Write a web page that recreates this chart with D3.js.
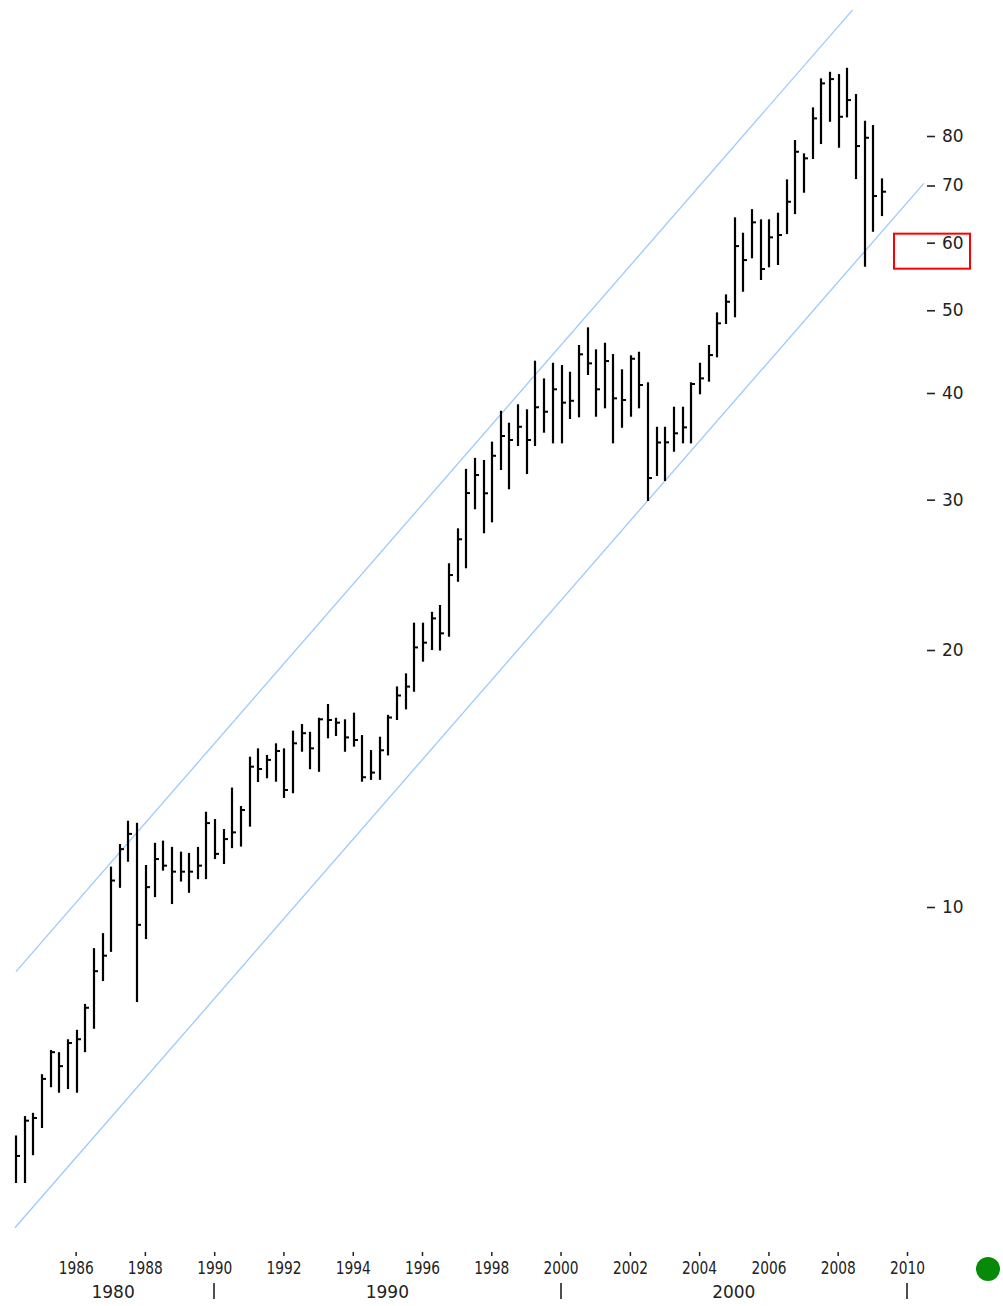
<!DOCTYPE html>
<html>
<head>
<meta charset="utf-8">
<script src="https://cdn.jsdelivr.net/npm/d3@7"></script>
<style>
  body { margin: 0; background: #fff; }
  svg { display: block; }
</style>
</head>
<body>
<div id="chart"></div>
<script>
// quarterly HLC bars, Apr 1984 .. Apr 2009
var highs = [5.40,5.69,5.74,6.37,6.80,6.76,7.00,7.18,7.70,8.95,
  9.32,11.15,11.85,12.62,12.55,11.20,11.89,11.96,11.76,11.61,
  11.57,11.76,12.93,12.68,12.34,13.80,13.13,15.00,15.34,15.07,
  15.55,15.34,16.09,16.38,16.04,16.66,17.29,16.66,16.59,16.89,
  15.90,15.27,15.83,16.79,18.13,18.78,21.53,21.53,22.17,22.58,
  25.27,27.77,32.60,33.58,33.39,35.08,38.13,36.92,38.80,38.28,
  43.64,41.61,43.40,43.13,42.36,45.53,47.75,45.00,45.81,44.43,
  42.64,44.28,44.71,41.17,36.52,36.52,38.55,38.55,41.17,43.40,
  45.53,49.72,52.19,64.24,61.63,65.69,63.90,63.90,65.05,71.17,
  79.13,76.34,86.42,93.45,95.13,94.54,96.16,89.58,83.36,82.40,71.36];
var lows = [4.75,4.75,5.12,5.51,6.15,6.06,6.12,6.06,6.76,7.20,
  8.19,8.86,10.53,11.30,7.74,9.17,10.27,11.03,10.08,10.71,
  10.39,10.78,10.78,11.38,11.23,11.72,11.77,12.42,14.01,14.15,
  14.02,13.42,13.59,15.20,14.50,14.40,15.76,15.86,15.20,15.41,
  14.02,14.09,14.09,15.05,16.56,17.04,17.87,19.38,20.00,19.97,
  20.73,24.04,24.93,29.23,27.40,28.22,32.50,30.85,34.67,32.15,
  34.67,35.94,34.92,34.92,37.29,37.46,41.99,37.52,38.38,34.92,
  36.42,37.52,38.38,29.89,31.98,31.55,34.14,34.92,34.92,39.86,
  41.24,44.04,48.18,49.06,52.56,57.52,54.25,56.14,56.49,61.41,
  64.81,68.65,75.18,78.28,83.13,77.51,84.12,71.23,56.23,61.79,64.46];
var closes = [5.11,5.62,5.66,6.29,6.76,6.51,6.93,7.00,7.62,8.41,
  8.77,10.74,11.69,12.18,9.53,10.55,11.38,11.18,11.00,11.00,
  11.00,11.18,12.54,11.54,12.01,12.23,12.99,14.60,14.51,14.87,
  15.23,13.71,15.55,15.98,15.34,16.59,16.56,16.44,15.80,15.69,
  14.19,14.37,15.26,16.67,17.69,18.12,20.14,20.40,21.78,20.92,
  24.48,26.96,30.54,32.06,30.52,33.77,35.62,35.24,36.52,35.24,
  38.49,38.03,40.40,38.97,39.17,44.40,43.33,40.40,43.60,39.43,
  39.25,43.87,40.87,31.80,35.00,35.02,35.88,36.46,40.98,41.61,
  44.31,48.27,51.16,59.45,57.25,63.38,55.88,60.87,61.25,67.00,
  76.67,75.32,83.89,92.20,93.27,84.26,88.14,77.86,79.62,68.04,68.84];

var quarters = d3.utcMonth.every(3).range(new Date(Date.UTC(1984, 3, 1)), new Date(Date.UTC(2009, 4, 1)));

// channel lines (start / end points)
var channelDates = [new Date(Date.UTC(1984, 3, 12)), new Date(Date.UTC(2008, 5, 7))];
var upperVals = [8.40, 112.4];
var lowerDates = [new Date(Date.UTC(1984, 3, 1)), new Date(Date.UTC(2010, 5, 28))];
var lowerVals = [4.21, 70.4];

var yTicks = [10, 20, 30, 40, 50, 60, 70, 80];
var yearTicks = [1986, 1988, 1990, 1992, 1994, 1996, 1998, 2000, 2002, 2004, 2006, 2008, 2010];
var decades = [1980, 1990, 2000];
var decadeTicks = [1990, 2000, 2010];

var width = 1003, height = 1306;

var svg = d3.select("#chart").append("svg")
    .attr("width", width)
    .attr("height", height);

var x = d3.scaleUtc()
    .domain([new Date(Date.UTC(1984, 2, 1)), new Date(Date.UTC(2010, 0, 1))])
    .range([12, 907]);

var y = d3.scaleLog()
    .domain([10, 80])
    .range([907, 136]);

function yr(d) { return new Date(Date.UTC(d, 0, 1)); }

// channel
var line = d3.line()
    .x(function(d) { return x(d[0]); })
    .y(function(d) { return y(d[1]); });

svg.append("path")
    .datum(d3.zip(channelDates, upperVals))
    .attr("d", line)
    .attr("fill", "none")
    .attr("stroke", "#9ccafc")
    .attr("stroke-width", 1.3);

svg.append("path")
    .datum(d3.zip(lowerDates, lowerVals))
    .attr("d", line)
    .attr("fill", "none")
    .attr("stroke", "#9ccafc")
    .attr("stroke-width", 1.3);

// bars
var bars = quarters.map(function(q, i) {
  return {date: q, high: highs[i], low: lows[i], close: closes[i]};
});

var bar = svg.append("g").selectAll("g")
    .data(bars)
  .enter().append("g")
    .attr("transform", function(d) { return "translate(" + (Math.round(x(d.date)) + 1) + ",0)"; });

bar.append("line")
    .attr("x1", 0).attr("x2", 0)
    .attr("y1", function(d) { return y(d.high); })
    .attr("y2", function(d) { return y(d.low); })
    .attr("stroke", "#000")
    .attr("stroke-width", 2.2);

bar.append("line")
    .attr("x1", 1).attr("x2", 4)
    .attr("y1", function(d) { return y(d.close); })
    .attr("y2", function(d) { return y(d.close); })
    .attr("stroke", "#000")
    .attr("stroke-width", 2);

// right axis
var yAxis = svg.append("g")
    .attr("transform", "translate(927,0)")
    .call(d3.axisRight(y).tickValues(yTicks).tickSize(8).tickPadding(7).tickFormat(d3.format("d")));
yAxis.select(".domain").remove();
yAxis.selectAll("line").attr("stroke", "#222").attr("stroke-width", 1.6);
yAxis.selectAll("text")
    .attr("fill", "#222")
    .style("font-family", "DejaVu Sans, Verdana, sans-serif")
    .style("font-size", "17px");

// year axis
var xAxis = svg.append("g")
    .attr("transform", "translate(0,1252)")
    .call(d3.axisBottom(x).tickValues(yearTicks.map(yr)).tickSize(4).tickPadding(6).tickFormat(d3.utcFormat("%Y")));
xAxis.select(".domain").remove();
xAxis.selectAll("line").attr("stroke", "#222").attr("stroke-width", 1.5);
xAxis.selectAll("text")
    .attr("fill", "#222")
    .attr("textLength", 35)
    .attr("lengthAdjust", "spacingAndGlyphs")
    .style("font-family", "DejaVu Sans, Verdana, sans-serif")
    .style("font-size", "17px");

// decade row
var x0 = x.range()[0], x1 = x.range()[1];
svg.append("g").selectAll("line")
    .data(decadeTicks)
  .enter().append("line")
    .attr("x1", function(d) { return Math.round(x(yr(d))); })
    .attr("x2", function(d) { return Math.round(x(yr(d))); })
    .attr("y1", 1283)
    .attr("y2", 1299)
    .attr("stroke", "#222")
    .attr("stroke-width", 1.6);

svg.append("g").selectAll("text")
    .data(decades)
  .enter().append("text")
    .attr("x", function(d) {
      var a = Math.max(x0, x(yr(d))), b = Math.min(x1, x(yr(d + 10)));
      return (a + b) / 2;
    })
    .attr("y", 1298)
    .attr("text-anchor", "middle")
    .attr("fill", "#222")
    .style("font-family", "DejaVu Sans, Verdana, sans-serif")
    .style("font-size", "17px")
    .text(function(d) { return d; });

// highlight box round the 60 label
svg.append("rect")
    .attr("x", 894)
    .attr("y", y(60) - 9)
    .attr("width", 76)
    .attr("height", 35)
    .attr("fill", "none")
    .attr("stroke", "#ff0000")
    .attr("stroke-width", 2);

// status dot
svg.append("circle")
    .attr("cx", 988)
    .attr("cy", 1269)
    .attr("r", 12)
    .attr("fill", "#078a07");
</script>
</body>
</html>
